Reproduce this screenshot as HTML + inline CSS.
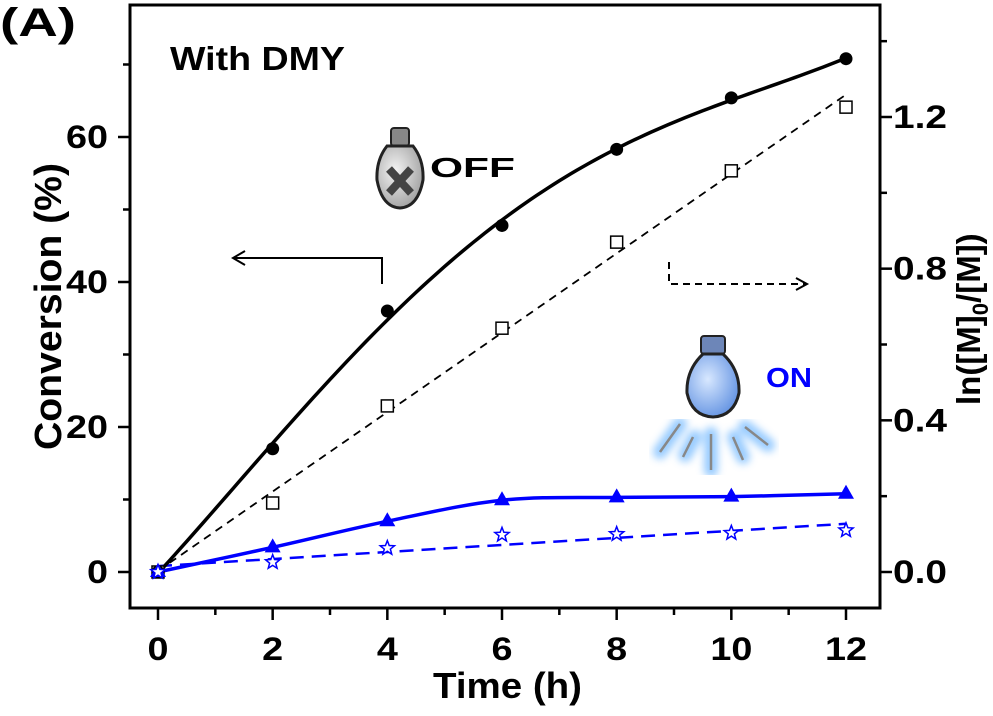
<!DOCTYPE html>
<html><head><meta charset="utf-8"><style>
body{margin:0;background:#fff;}
svg text{font-family:"Liberation Sans",Arial,sans-serif;font-weight:bold;}
</style></head><body>
<svg id="chart" width="993" height="711" viewBox="0 0 993 711" xmlns="http://www.w3.org/2000/svg">
<defs>
<radialGradient id="gOff" cx="0.4" cy="0.4" r="0.7"><stop offset="0" stop-color="#f4f4f4"/><stop offset="1" stop-color="#9a9a9a"/></radialGradient>
<radialGradient id="gOn" cx="0.4" cy="0.4" r="0.7"><stop offset="0" stop-color="#d8e8ff"/><stop offset="1" stop-color="#5b8de0"/></radialGradient>
<filter id="blur"><feGaussianBlur stdDeviation="4"/></filter>
</defs>
<g id="axes"></g>
<g id="series"></g>
<text x="0" y="36" font-size="40" textLength="76" lengthAdjust="spacingAndGlyphs">(A)</text>
<text x="170" y="70" font-size="33" textLength="175" lengthAdjust="spacingAndGlyphs">With DMY</text>
<g>
<rect x="391" y="128" width="18" height="18" rx="3" fill="#888" stroke="#222" stroke-width="2"/>
<path d="M387 146 Q376 160 377 180 Q382 207 400 208 Q418 207 423 180 Q424 160 413 146 Z" fill="url(#gOff)" stroke="#222" stroke-width="3"/>
<path d="M389 169 L411 193 M411 169 L389 193" stroke="#444" stroke-width="8"/>
</g>
<text x="430" y="177" font-size="28" textLength="85" lengthAdjust="spacingAndGlyphs">OFF</text>
<g>
<g stroke="#7fbfff" stroke-width="14" stroke-linecap="round" filter="url(#blur)" opacity="0.8">
<path d="M680 424 L660 452 M695 437 L685 455 M711 434 L711 470 M734 437 L743 457 M745 427 L768 445"/>
</g>
<g stroke="#888" stroke-width="2.5"><path d="M680 424 L660 452 M693 437 L683 457 M711 434 L711 470 M733 437 L743 460 M745 427 L768 445"/></g>
<rect x="701" y="336" width="24" height="18" rx="3" fill="#6d86b8" stroke="#222" stroke-width="2"/>
<path d="M703 354 Q686 370 687 393 Q692 416 713 417 Q734 416 739 393 Q740 370 723 354 Z" fill="url(#gOn)" stroke="#222" stroke-width="3"/>
</g>
<text x="766" y="387" font-size="28" textLength="46" lengthAdjust="spacingAndGlyphs" fill="#0000ff">ON</text>
<g fill="none" stroke="#000" stroke-width="2">
<path d="M382 284 L382 258 L235 258"/><path d="M245 251 L233 258 L245 265"/>
</g>
<g fill="none" stroke="#000" stroke-width="2">
<path d="M669 262 L669 284 L806 284" stroke-dasharray="7,5"/><path d="M796 278 L807 284 L796 290"/>
</g>
<text x="433" y="698" font-size="36" textLength="149" lengthAdjust="spacingAndGlyphs">Time (h)</text>
<text transform="translate(61,450) rotate(-90)" font-size="38" textLength="287" lengthAdjust="spacingAndGlyphs">Conversion (%)</text>
<text transform="translate(980,405) rotate(-90)" font-size="33">ln([M]<tspan font-size="22" dy="8">0</tspan><tspan dy="-8">/[M])</tspan></text>
</svg>
<script>
const times=[0,2,4,6,8,10,12];
const convOff=[0,17,36,47.8,58.3,65.4,70.8];
const lnOff=[0,0.182,0.438,0.643,0.87,1.058,1.226];
const convOn=[0,3.4,7,9.9,10.3,10.4,10.8];
const lnOn=[0,0.026,0.063,0.098,0.1,0.103,0.11];
const xTicks=[0,2,4,6,8,10,12];
const leftTicks=[0,20,40,60];
const rightTicks=[0,0.4,0.8,1.2];

const L=130,R=880,T=5,B=608;
const X=v=>158+v*(846-158)/12;
const YL=v=>572-v*(572-137)/60;
const YR=v=>572-v*(572-117)/1.2;
const NS="http://www.w3.org/2000/svg";
const axes=document.getElementById('axes'),ser=document.getElementById('series');
function mk(tag,at,parent){const e=document.createElementNS(NS,tag);for(const k in at)e.setAttribute(k,at[k]);parent.appendChild(e);return e;}
function lab(txt,at){const t=mk('text',Object.assign({'font-size':32,lengthAdjust:'spacingAndGlyphs',textLength:String(txt).replace('.','').length*21+(String(txt).includes('.')?10:0)},at),axes);t.textContent=txt;return t;}

const fr=mk('rect',{x:L,y:T,width:R-L,height:B-T,fill:'none',stroke:'#000','stroke-width':3},axes);


for(let v=0;v<=12;v++){const maj=v%2===0;
 const t=mk('line',{x1:X(v),x2:X(v),y1:B,y2:B+(maj?12:7),stroke:'#000','stroke-width':2.5},axes);
 
 }
xTicks.forEach(v=>{const w=String(v).length*21;const t=lab(v,{x:X(v)-w/2,y:660});
 
 });
for(let v=0;v<=70;v+=10){const maj=v%20===0;
 const t=mk('line',{x1:L-(maj?12:7),x2:L,y1:YL(v),y2:YL(v),stroke:'#000','stroke-width':2.5},axes);
 
 }
leftTicks.forEach(v=>{const w=String(v).length*21;const t=lab(v,{x:108-w,y:YL(v)+11});
 
 });
for(let i=0;i<=7;i++){const v=i*0.2,maj=i%2===0;
 const t=mk('line',{x1:R,x2:R+(maj?12:7),y1:YR(v),y2:YR(v),stroke:'#000','stroke-width':2.5},axes);
 
 }
rightTicks.forEach(v=>{const t=lab(v.toFixed(1),{x:893,y:YR(v)+11});
 t.setAttribute('textLength',54);
 
 });

function smooth(pts){let d=`M${pts[0][0]},${pts[0][1]}`;
 for(let i=0;i<pts.length-1;i++){const p0=pts[i-1]||pts[i],p1=pts[i],p2=pts[i+1],p3=pts[i+2]||p2;
  d+=` C${p1[0]+(p2[0]-p0[0])/6},${p1[1]+(p2[1]-p0[1])/6} ${p2[0]-(p3[0]-p1[0])/6},${p2[1]-(p3[1]-p1[1])/6} ${p2[0]},${p2[1]}`;}
 return d;}
function fit(ys){const n=times.length,mx=times.reduce((a,b)=>a+b)/n,my=ys.reduce((a,b)=>a+b)/n;
 let sxy=0,sxx=0;times.forEach((t,i)=>{sxy+=(t-mx)*(ys[i]-my);sxx+=(t-mx)**2;});const m=sxy/sxx;return[m,my-m*mx];}
function polyfit(xs,ys,deg){const n=deg+1;const A=[...Array(n)].map(()=>Array(n+1).fill(0));
 xs.forEach((x,k)=>{for(let i=0;i<n;i++){for(let j=0;j<n;j++)A[i][j]+=Math.pow(x,i+j);A[i][n]+=ys[k]*Math.pow(x,i);}});
 for(let i=0;i<n;i++){let p=i;for(let r=i+1;r<n;r++)if(Math.abs(A[r][i])>Math.abs(A[p][i]))p=r;[A[i],A[p]]=[A[p],A[i]];
  for(let r=0;r<n;r++){if(r===i)continue;const f=A[r][i]/A[i][i];for(let c=i;c<=n;c++)A[r][c]-=f*A[i][c];}}
 return A.map((r,i)=>r[n]/r[i]);}

[[lnOff,'#000',1.8,'8,6','fit-line-off'],[lnOn,'#0000ff',2.5,'14,8','fit-line-on']].forEach(([ys,c,w,da,nm])=>{
 const [m,b]=fit(ys);const p=mk('line',{x1:X(0),y1:YR(Math.max(b,0)),x2:X(12),y2:YR(m*12+b),stroke:c,'stroke-width':w,'stroke-dasharray':da},ser);
 
 });
{const co=polyfit(times,convOff,4);let d='';for(let k=0;k<=120;k++){const t=k*0.1;const v=co.reduce((s,c,i)=>s+c*Math.pow(t,i),0);d+=(k?'L':'M')+X(t)+','+YL(Math.max(v,0));}
 const p=mk('path',{d:d,fill:'none',stroke:'#000','stroke-width':3.5},ser);
 
 }
{const p=mk('path',{d:smooth(times.map((t,i)=>[X(t),YL(convOn[i])])),fill:'none',stroke:'#0000ff','stroke-width':3.5},ser);
 
 }
times.forEach((t,i)=>{
 const s=mk('rect',{x:X(t)-6,y:YR(lnOff[i])-6,width:12,height:12,fill:'#fff',stroke:'#000','stroke-width':1.5},ser);
 
 
 const c=mk('circle',{cx:X(t),cy:YL(convOff[i]),r:6.5,fill:'#000'},ser);
 
 
 const x=X(t),y=YL(convOn[i]);
 const tr=mk('polygon',{points:`${x},${y-9} ${x+8},${y+5} ${x-8},${y+5}`,fill:'#0000ff'},ser);
 
 
 const sy=YR(lnOn[i]);let pts=[];for(let k=0;k<10;k++){const r=k%2?3.2:7.5,a=-Math.PI/2+k*Math.PI/5;pts.push(`${x+r*Math.cos(a)},${sy+r*Math.sin(a)}`);}
 const st=mk('polygon',{points:pts.join(' '),fill:'#fff',stroke:'#0000ff','stroke-width':1.5},ser);
 
 
});
</script>
</body></html>
